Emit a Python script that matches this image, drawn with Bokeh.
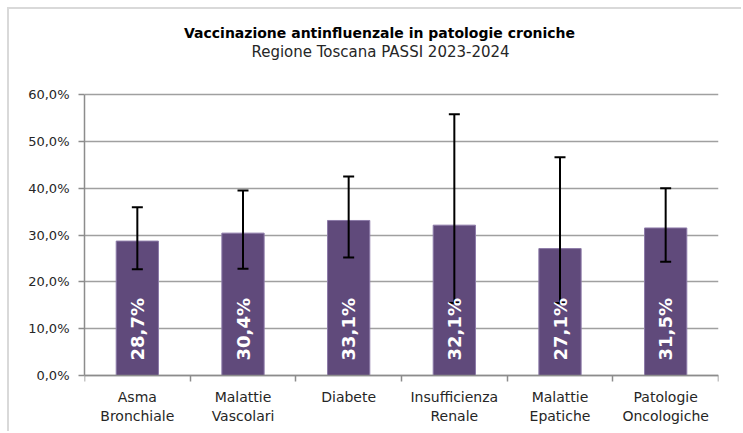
from bokeh.plotting import figure
from bokeh.models import (ColumnDataSource, FixedTicker, LinearAxis, Range1d, Label, Whisker, TeeHead)
from bokeh.core.properties import value
from bokeh.embed import file_html
from bokeh.resources import INLINE
import math

categories = ["Asma\nBronchiale", "Malattie\nVascolari", "Diabete", "Insufficienza\nRenale", "Malattie\nEpatiche", "Patologie\nOncologiche"]
values = [28.7, 30.4, 33.1, 32.1, 27.1, 31.5]
lower = [22.7, 22.8, 25.2, 15.5, 15.5, 24.3]
upper = [35.9, 39.5, 42.5, 55.8, 46.6, 40.0]
y_ticks = [0, 10, 20, 30, 40, 50, 60]
y_tick_labels = ["0,0%", "10,0%", "20,0%", "30,0%", "40,0%", "50,0%", "60,0%"]
title_text = "Vaccinazione antinfluenzale in patologie croniche"
subtitle_text = "Regione Toscana PASSI 2023-2024"

xs = [i + 0.5 for i in range(len(categories))]
bounds = list(range(len(categories) + 1))
labels = [f"{v:.1f}%".replace(".", ",") for v in values]
src = ColumnDataSource(dict(x=xs, v=values, lo=lower, hi=upper, lab=labels, base=[0] * len(values)))

# layout (pixels): canvas offset by a 7px margin + 2px border
OFF = 9
W = 743 - OFF
H = 433 - OFF
AREA_TOP = 94 - OFF
AREA_BOTTOM = 375 - OFF
YMAX = 60
ppu = (AREA_BOTTOM - AREA_TOP) / YMAX
y_lo = -(H - AREA_BOTTOM) / ppu
y_hi = YMAX + AREA_TOP / ppu

FONT = "DejaVu Sans"
p = figure(width=W, height=H, output_backend="svg", toolbar_location=None,
           x_range=Range1d(0, len(categories)), y_range=Range1d(y_lo, y_hi),
           x_axis_location=None, y_axis_location=None,
           min_border_left=84 - OFF, min_border_right=743 - 718, min_border_top=0, min_border_bottom=0,
           styles={"border-left": "2px solid #D9D9D9", "border-top": "2px solid #D9D9D9",
                   "margin-left": "7px", "margin-top": "7px"})
p.outline_line_color = None
p.background_fill_color = "white"
p.border_fill_color = "white"

# titles (offsets in screen pixels relative to the top-centre of the plot area)
p.add_layout(Label(x=len(categories) / 2, y=YMAX, x_offset=-22, y_offset=62, text=title_text,
                   text_align="center", text_baseline="middle", text_font=FONT,
                   text_font_size="14px", text_font_style="bold", text_color="#000000"))
p.add_layout(Label(x=len(categories) / 2, y=YMAX, x_offset=-21, y_offset=43, text=subtitle_text,
                   text_align="center", text_baseline="middle", text_font=FONT,
                   text_font_size="15px", text_color="#262626"))

# y axis
yax = LinearAxis(ticker=FixedTicker(ticks=y_ticks), bounds=(0, YMAX),
                 major_label_overrides={t: l for t, l in zip(y_ticks, y_tick_labels)})
yax.axis_line_color = "#8C8C8C"
yax.axis_line_width = 1.5
yax.major_tick_line_color = "#8C8C8C"
yax.major_tick_line_width = 1.5
yax.major_tick_out = 6
yax.major_tick_in = 0
yax.minor_tick_line_color = None
yax.major_label_text_font = FONT
yax.major_label_text_font_size = "13px"
yax.major_label_text_color = "#262626"
yax.major_label_standoff = 9
p.add_layout(yax, "left")

# x axis at 0: labels at category centers, minor ticks at category boundaries
xax = LinearAxis(ticker=FixedTicker(ticks=xs, minor_ticks=bounds), fixed_location=0,
                 major_label_overrides={x: c for x, c in zip(xs, categories)})
xax.axis_line_color = "#8C8C8C"
xax.axis_line_width = 1.5
xax.major_tick_line_color = None
xax.minor_tick_line_color = "#8C8C8C"
xax.minor_tick_line_width = 1.5
xax.minor_tick_out = 6
xax.minor_tick_in = 0
xax.major_tick_out = 6
xax.major_tick_in = 0
xax.major_label_text_font = FONT
xax.major_label_text_font_size = "14px"
xax.major_label_text_color = "#262626"
xax.major_label_standoff = 7
p.add_layout(xax, "below")

p.xgrid.visible = False
p.ygrid.ticker = FixedTicker(ticks=y_ticks)
p.ygrid.grid_line_color = "#A0A0A0"
p.ygrid.grid_line_width = 1.5

p.vbar(x="x", top="v", bottom=0, width=0.4, source=src,
       fill_color="#604A7B", line_color="#8C7AA8", line_width=1)

w = Whisker(base="x", lower="lo", upper="hi", source=src, line_color="black", line_width=2,
            level="annotation",
            upper_head=TeeHead(size=11, line_color="black", line_width=2),
            lower_head=TeeHead(size=11, line_color="black", line_width=2))
p.add_layout(w)

txt = p.text(x="x", y="base", text="lab", source=src, angle=math.pi / 2,
             text_align="left", text_baseline="middle", y_offset=-15,
             text_color="white", text_font=value(FONT), text_font_style="bold",
             text_font_size="18px")
txt.level = "overlay"

open("out.html", "w").write(file_html(p, INLINE))
